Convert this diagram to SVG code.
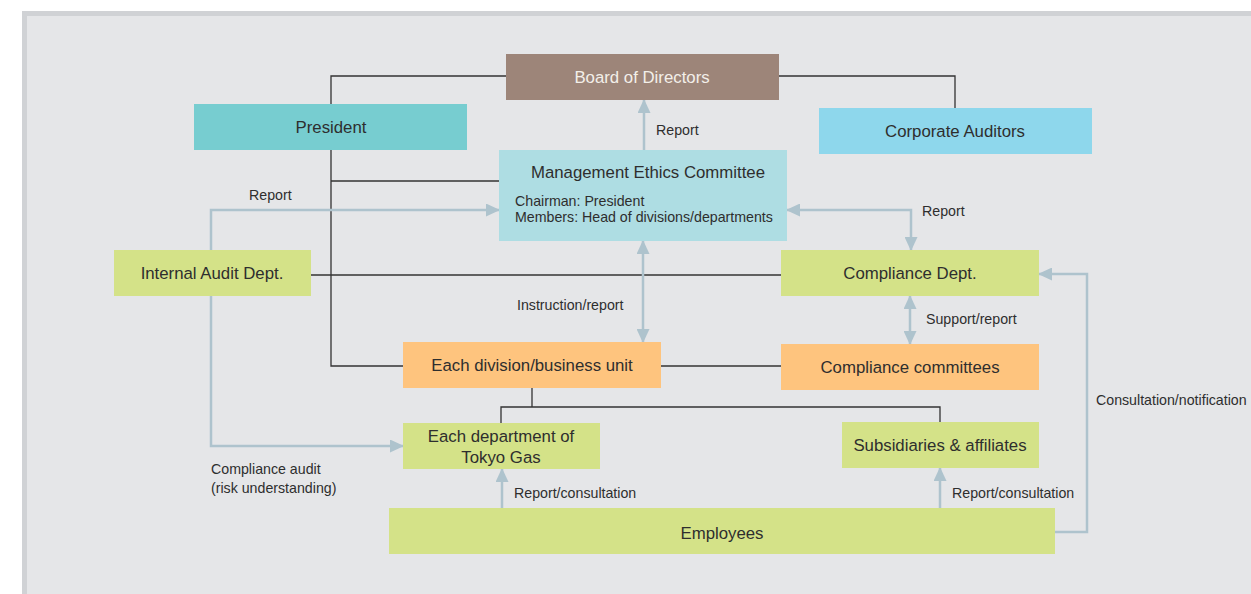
<svg xmlns="http://www.w3.org/2000/svg" width="1251" height="594" viewBox="0 0 1251 594">
<style>
text{font-family:"Liberation Sans",Arial,sans-serif;fill:#2e2e2e}
.t{font-size:16.8px;text-anchor:middle}
.s{font-size:14.2px}
.k{fill:none;stroke:#333;stroke-width:1.3}
.b{fill:none;stroke:#aec3cd;stroke-width:2.5}
.a{marker-end:url(#ah)}
.d{marker-start:url(#ah);marker-end:url(#ah)}
</style>
<defs>
<marker id="ah" markerUnits="userSpaceOnUse" markerWidth="14" markerHeight="13" refX="13" refY="6.5" orient="auto-start-reverse">
<path d="M0,0 L14,6.5 L0,13 z" fill="#aec3cd"/>
</marker>
</defs>
<rect x="0" y="0" width="1251" height="594" fill="#ffffff"/>
<rect x="22" y="11" width="1240" height="600" fill="#d0d2d5"/>
<rect x="27" y="16" width="1240" height="600" fill="#e5e6e8"/>

<g id="connectors">
<polyline class="k" points="331,104 331,76 506,76"/>
<polyline class="k" points="779,76 955,76 955,108"/>
<polyline class="k" points="331,150 331,366 403,366"/>
<line class="k" x1="331" y1="181" x2="499" y2="181"/>
<line class="k" x1="311" y1="275" x2="781" y2="275"/>
<line class="k" x1="661" y1="366" x2="781" y2="366"/>
<line class="k" x1="532" y1="388" x2="532" y2="407"/>
<polyline class="k" points="501,423 501,407 940,407 940,422"/>

<polyline class="b a" points="211,250 211,210 499,210"/>
<polyline class="b a" points="211,296 211,446 403,446"/>
<line class="b a" x1="644" y1="150" x2="644" y2="100"/>
<line class="b d" x1="643" y1="241" x2="643" y2="342"/>
<polyline class="b d" points="787,210 911,210 911,250"/>
<line class="b d" x1="910" y1="296" x2="910" y2="344"/>
<line class="b a" x1="502" y1="508" x2="502" y2="469"/>
<line class="b a" x1="940" y1="508" x2="940" y2="468"/>
<polyline class="b a" points="1055,532 1087,532 1087,274 1039,274"/>

<text class="s" x="656" y="135">Report</text>
<text class="s" x="249" y="200">Report</text>
<text class="s" x="922" y="216">Report</text>
<text class="s" x="517" y="310">Instruction/report</text>
<text class="s" x="926" y="324">Support/report</text>
<text class="s" x="211" y="474">Compliance audit</text>
<text class="s" x="211" y="493">(risk understanding)</text>
<text class="s" x="514" y="498">Report/consultation</text>
<text class="s" x="952" y="498">Report/consultation</text>
<text class="s" x="1096" y="405">Consultation/notification</text>
</g>

<g id="board">
<rect x="506" y="54" width="273" height="46" fill="#9d8579"/>
<text class="t" x="642" y="83" style="fill:#f3efe9">Board of Directors</text>
</g>
<g id="president">
<rect x="194" y="104" width="273" height="46" fill="#77cdd0"/>
<text class="t" x="331" y="133">President</text>
</g>
<g id="auditors">
<rect x="819" y="108" width="273" height="46" fill="#8ed7ec"/>
<text class="t" x="955" y="137">Corporate Auditors</text>
</g>
<g id="ethics">
<rect x="499" y="150" width="288" height="91" fill="#aedde3"/>
<text class="t" x="648" y="178">Management Ethics Committee</text>
<text class="s" x="515" y="206">Chairman: President</text>
<text class="s" x="515" y="222">Members: Head of divisions/departments</text>
</g>
<g id="internal-audit">
<rect x="114" y="250" width="197" height="46" fill="#d4e288"/>
<text class="t" x="212" y="279">Internal Audit Dept.</text>
</g>
<g id="compliance-dept">
<rect x="781" y="250" width="258" height="46" fill="#d4e288"/>
<text class="t" x="910" y="279">Compliance Dept.</text>
</g>
<g id="division">
<rect x="403" y="342" width="258" height="46" fill="#fec47e"/>
<text class="t" x="532" y="371">Each division/business unit</text>
</g>
<g id="committees">
<rect x="781" y="344" width="258" height="46" fill="#fec47e"/>
<text class="t" x="910" y="373">Compliance committees</text>
</g>
<g id="department">
<rect x="403" y="423" width="197" height="46" fill="#d4e288"/>
<text class="t" x="501" y="442">Each department of</text>
<text class="t" x="501" y="463">Tokyo Gas</text>
</g>
<g id="subsidiaries">
<rect x="842" y="422" width="197" height="46" fill="#d4e288"/>
<text class="t" x="940" y="451">Subsidiaries &amp; affiliates</text>
</g>
<g id="employees">
<rect x="389" y="508" width="666" height="46" fill="#d4e288"/>
<text class="t" x="722" y="539">Employees</text>
</g>
</svg>
